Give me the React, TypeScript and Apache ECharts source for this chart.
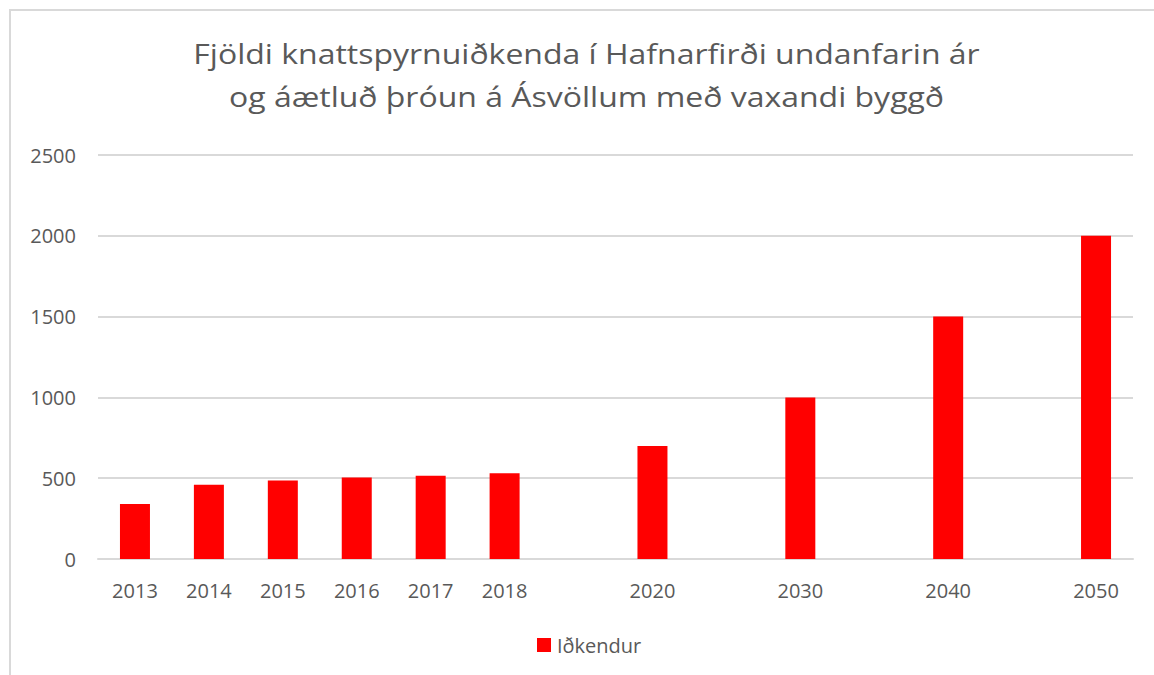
import React, { useEffect, useRef } from "react";
import * as echarts from "echarts";

const titleLines = [
  "Fjöldi knattspyrnuiðkenda í Hafnarfirði undanfarin ár",
  "og áætluð þróun á Ásvöllum með vaxandi byggð",
];
const categories = ["2013", "2014", "2015", "2016", "2017", "2018", "", "2020", "", "2030", "", "2040", "", "2050"];
const seriesName = "Iðkendur";
const values: (number | null)[] = [340, 460, 485, 505, 515, 530, null, 700, null, 1000, null, 1500, null, 2000];
const yTicks = { min: 0, max: 2500, interval: 500 };

const FONT = "'Open Sans', 'Noto Sans', sans-serif";
const GRAY = "#595959";
const LINE = "#d9d9d9";

export default function App() {
  const ref = useRef<HTMLDivElement>(null);
  useEffect(() => {
    if (!ref.current) return;
    const chart = echarts.init(ref.current, undefined, { renderer: "svg" });
    const titleText = (text: string, y: number) => ({
      type: "text",
      x: 586.5,
      y,
      scaleY: 0.88,
      style: {
        text,
        fontFamily: FONT,
        fontSize: 32,
        fill: GRAY,
        textAlign: "center",
        textVerticalAlign: "middle",
      },
    });
    chart.setOption({
      animation: false,
      backgroundColor: "#ffffff",
      textStyle: { fontFamily: FONT },
      graphic: [
        {
          type: "rect",
          shape: { x: 10, y: 10, width: 1300, height: 800 },
          style: { fill: "none", stroke: LINE, lineWidth: 2 },
          silent: true,
        },
        titleText(titleLines[0], 53.5),
        titleText(titleLines[1], 96.5),
      ],
      legend: {
        data: [seriesName],
        left: 537,
        top: 635,
        padding: 0,
        icon: "rect",
        itemWidth: 14,
        itemHeight: 14,
        itemGap: 10,
        textStyle: { fontFamily: FONT, fontSize: 20, color: GRAY, padding: [0, 0, 0, 1] },
      },
      grid: { left: 98, right: 21, top: 155, bottom: 116, containLabel: false },
      xAxis: {
        type: "category",
        data: categories,
        axisLine: { show: true, lineStyle: { color: LINE, width: 2 } },
        axisTick: { show: false },
        axisLabel: { interval: 0, margin: 21, fontFamily: FONT, fontSize: 20, color: GRAY },
        splitLine: { show: false },
      },
      yAxis: {
        type: "value",
        min: yTicks.min,
        max: yTicks.max,
        interval: yTicks.interval,
        axisLine: { show: false },
        axisTick: { show: false },
        axisLabel: {
          margin: 22,
          fontFamily: FONT,
          fontSize: 20,
          color: GRAY,
          formatter: (v: number) => String(v),
        },
        splitLine: { show: true, lineStyle: { color: LINE, width: 2 } },
      },
      series: [
        {
          name: seriesName,
          type: "bar",
          data: values,
          barWidth: 30,
          itemStyle: { color: "#ff0000" },
        },
      ],
    });
    return () => chart.dispose();
  }, []);
  return (
    <div
      ref={ref}
      style={{ position: "fixed", left: 0, top: 0, width: 1154, height: 675 }}
    />
  );
}
